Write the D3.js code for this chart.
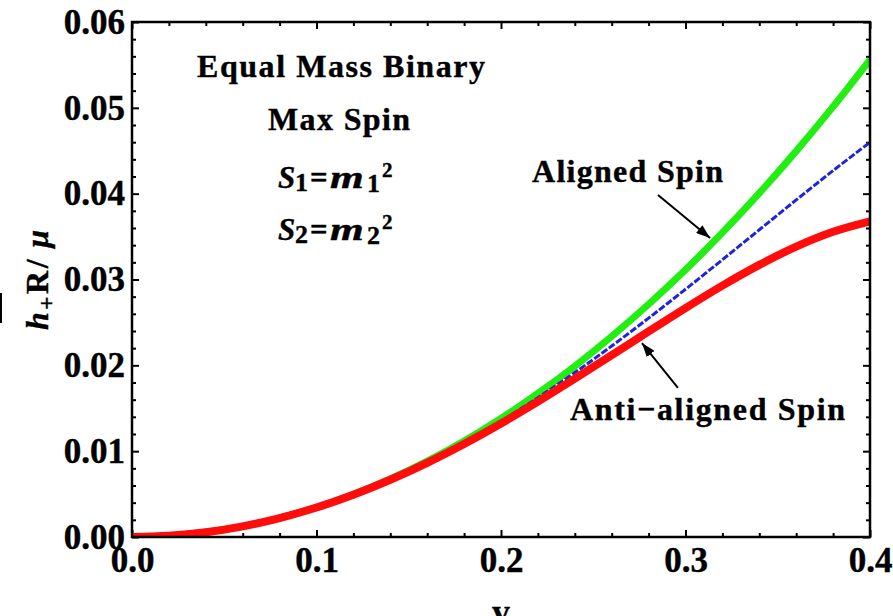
<!DOCTYPE html>
<html>
<head>
<meta charset="utf-8">
<script src="https://cdn.jsdelivr.net/npm/d3@7"></script>
<style>
  html, body { margin: 0; padding: 0; background: #fff; }
  svg { display: block; }
  text { font-family: "Liberation Serif", "Times New Roman", serif; font-weight: bold; fill: #000;
         stroke: #000; stroke-width: 0.4px; }
</style>
</head>
<body>
<svg id="chart" width="893" height="616"></svg>
<script>
// Orbital velocity samples
const vValues = [0.00, 0.02, 0.04, 0.06, 0.08, 0.10, 0.12, 0.14, 0.16, 0.18, 0.20,
                 0.22, 0.24, 0.26, 0.28, 0.30, 0.32, 0.34, 0.36, 0.38, 0.40];

// h+ R / mu for spins aligned with the orbital angular momentum
const alignedSpin = [0, 0.000138, 0.000552, 0.001242, 0.002208, 0.003450, 0.004969,
                     0.006763, 0.008834, 0.011183, 0.013813, 0.016728, 0.019904,
                     0.023370, 0.027118, 0.031137, 0.035462, 0.040064, 0.044954,
                     0.050135, 0.055610];

// h+ R / mu without spin contribution
const noSpin = [0, 0.000138, 0.000552, 0.001241, 0.002205, 0.003441, 0.004945,
                0.006714, 0.008738, 0.011008, 0.013512, 0.016234, 0.019155,
                0.022253, 0.025499, 0.028863, 0.032308, 0.035793, 0.039270,
                0.042688, 0.045984];

// h+ R / mu for spins anti-aligned with the orbital angular momentum
const antiAlignedSpin = [0, 0.000138, 0.000552, 0.001241, 0.002202, 0.003432, 0.004923,
                         0.006665, 0.008643, 0.010838, 0.013224, 0.015770, 0.018439,
                         0.021183, 0.023950, 0.026676, 0.029288, 0.031703, 0.033828,
                         0.035556, 0.036768];

const xTickValues = [0.0, 0.1, 0.2, 0.3, 0.4];
const xTickLabels = ["0.0", "0.1", "0.2", "0.3", "0.4"];
const yTickValues = [0.00, 0.01, 0.02, 0.03, 0.04, 0.05, 0.06];
const yTickLabels = ["0.00", "0.01", "0.02", "0.03", "0.04", "0.05", "0.06"];

const svg = d3.select("#chart");
const plotLeft = 132, plotRight = 870, plotTop = 22, plotBottom = 537;

const x = d3.scaleLinear().domain([0, 0.4]).range([plotLeft, plotRight]);
const y = d3.scaleLinear().domain([0, 0.06]).range([plotBottom, plotTop]);

const minorX = d3.range(0, 0.4001, 0.02).filter(v => Math.abs(v * 10 - Math.round(v * 10)) > 1e-6);
const minorY = d3.range(0, 0.06001, 0.002).filter(v => Math.abs(v * 100 - Math.round(v * 100)) > 1e-6);

function styleAxis(g) {
  g.select(".domain").remove();
  g.selectAll("line").attr("stroke", "#000").attr("stroke-width", 2);
}
function styleLabels(g) {
  g.selectAll("text").attr("font-size", 35)
    .attr("font-family", "Liberation Serif").attr("font-weight", "bold").attr("fill", "#000");
}

// Bottom axis: labelled majors + minor ticks, pointing inward
svg.append("g").attr("transform", `translate(0,${plotBottom})`)
  .call(d3.axisBottom(x).tickValues(xTickValues)
    .tickFormat((d, i) => xTickLabels[i]).tickSize(-7).tickPadding(10))
  .call(styleAxis).call(styleLabels);
svg.append("g").attr("transform", `translate(0,${plotBottom})`)
  .call(d3.axisBottom(x).tickValues(minorX).tickFormat("").tickSize(-4))
  .call(styleAxis);

// Top axis: ticks only
svg.append("g").attr("transform", `translate(0,${plotTop})`)
  .call(d3.axisTop(x).tickValues(xTickValues).tickFormat("").tickSize(-7))
  .call(styleAxis);
svg.append("g").attr("transform", `translate(0,${plotTop})`)
  .call(d3.axisTop(x).tickValues(minorX).tickFormat("").tickSize(-4))
  .call(styleAxis);

// Left axis
svg.append("g").attr("transform", `translate(${plotLeft},0)`)
  .call(d3.axisLeft(y).tickValues(yTickValues)
    .tickFormat((d, i) => yTickLabels[i]).tickSize(-7).tickPadding(7))
  .call(styleAxis).call(styleLabels);
svg.append("g").attr("transform", `translate(${plotLeft},0)`)
  .call(d3.axisLeft(y).tickValues(minorY).tickFormat("").tickSize(-4))
  .call(styleAxis);

// Right axis: ticks only
svg.append("g").attr("transform", `translate(${plotRight},0)`)
  .call(d3.axisRight(y).tickValues(yTickValues).tickFormat("").tickSize(-7))
  .call(styleAxis);
svg.append("g").attr("transform", `translate(${plotRight},0)`)
  .call(d3.axisRight(y).tickValues(minorY).tickFormat("").tickSize(-4))
  .call(styleAxis);

// Curves, clipped to the frame
svg.append("clipPath").attr("id", "plotclip")
  .append("rect").attr("x", plotLeft).attr("y", plotTop - 10)
  .attr("width", plotRight - plotLeft).attr("height", plotBottom - plotTop + 10);

const line = d3.line().curve(d3.curveCatmullRom)
  .x(d => x(d[0])).y(d => y(d[1]));

const curves = svg.append("g").attr("clip-path", "url(#plotclip)");
curves.append("path").datum(vValues.map((v, i) => [v, alignedSpin[i]]))
  .attr("d", line).attr("fill", "none").attr("stroke", "#22ee11").attr("stroke-width", 7);
curves.append("path").datum(vValues.map((v, i) => [v, noSpin[i]]))
  .attr("d", line).attr("fill", "none").attr("stroke", "#1f24d8").attr("stroke-width", 3)
  .attr("stroke-dasharray", "7,2");
curves.append("path").datum(vValues.map((v, i) => [v, antiAlignedSpin[i]]))
  .attr("d", line).attr("fill", "none").attr("stroke", "#ff0d0d").attr("stroke-width", 8);

// Frame
svg.append("rect").attr("x", plotLeft).attr("y", plotTop)
  .attr("width", plotRight - plotLeft).attr("height", plotBottom - plotTop)
  .attr("fill", "none").attr("stroke", "#000").attr("stroke-width", 2.5);

// Axis titles
svg.append("text").attr("x", x(0.2)).attr("y", 624).attr("text-anchor", "middle")
  .attr("font-size", 35).text("v");

const yl = svg.append("text")
  .attr("transform", `translate(48,280) rotate(-90)`)
  .attr("text-anchor", "middle").attr("font-size", 32)
  .attr("textLength", 100).attr("lengthAdjust", "spacing");
yl.append("tspan").attr("font-style", "italic").text("h");
yl.append("tspan").attr("font-size", 23).attr("dy", 6).text("+");
yl.append("tspan").attr("dy", -6).text("R/\u2009");
yl.append("tspan").attr("font-style", "italic").text("\u03bc");

svg.append("rect").attr("x", 0).attr("y", 293).attr("width", 2).attr("height", 30).attr("fill", "#000");

// Annotations
svg.append("text").attr("x", 341).attr("y", 77).attr("text-anchor", "middle")
  .attr("font-size", 32).attr("textLength", 288).attr("lengthAdjust", "spacing")
  .text("Equal Mass Binary");
svg.append("text").attr("x", 339).attr("y", 130).attr("text-anchor", "middle")
  .attr("font-size", 32).attr("textLength", 142).attr("lengthAdjust", "spacing")
  .text("Max Spin");

// Spin magnitude labels: S_i = m_i^2
function spinLabel(idx, base) {
  const g = svg.append("g");
  g.append("text").attr("x", 278).attr("y", base).attr("font-size", 31)
    .attr("font-style", "italic").text("S");
  g.append("text").attr("x", 295).attr("y", base + 3).attr("font-size", 26).text(idx);
  g.append("text").attr("x", 310).attr("y", base).attr("font-size", 31).text("=");
  g.append("text").attr("transform", `translate(330,${base}) scale(1.4,1)`)
    .attr("font-size", 31).attr("font-style", "italic").text("m");
  g.append("text").attr("x", 367).attr("y", base + 4).attr("font-size", 26).text(idx);
  g.append("text").attr("x", 382).attr("y", base - 11).attr("font-size", 21).text("2");
}
spinLabel("1", 188);
spinLabel("2", 240);

svg.append("text").attr("x", 532).attr("y", 182)
  .attr("font-size", 32).attr("textLength", 191).attr("lengthAdjust", "spacing")
  .text("Aligned Spin");
svg.append("text").attr("x", 570).attr("y", 420)
  .attr("font-size", 32).attr("textLength", 275).attr("lengthAdjust", "spacing")
  .text("Anti\u2212aligned Spin");

// Arrows pointing at the spin curves
svg.append("defs").append("marker").attr("id", "head")
  .attr("viewBox", "0 0 14 10").attr("refX", 14).attr("refY", 5)
  .attr("markerWidth", 14).attr("markerHeight", 10).attr("markerUnits", "userSpaceOnUse")
  .attr("orient", "auto")
  .append("path").attr("d", "M0,0 L14,5 L0,10 Z").attr("fill", "#000");

const arrows = [
  { from: [0.2851, 0.03984], to: [0.3133, 0.03484] },
  { from: [0.2959, 0.01736], to: [0.2764, 0.02260] }
];
svg.selectAll("line.arrow").data(arrows).enter().append("line")
  .attr("class", "arrow")
  .attr("x1", d => x(d.from[0])).attr("y1", d => y(d.from[1]))
  .attr("x2", d => x(d.to[0])).attr("y2", d => y(d.to[1]))
  .attr("stroke", "#000").attr("stroke-width", 2)
  .attr("marker-end", "url(#head)");
</script>
</body>
</html>
